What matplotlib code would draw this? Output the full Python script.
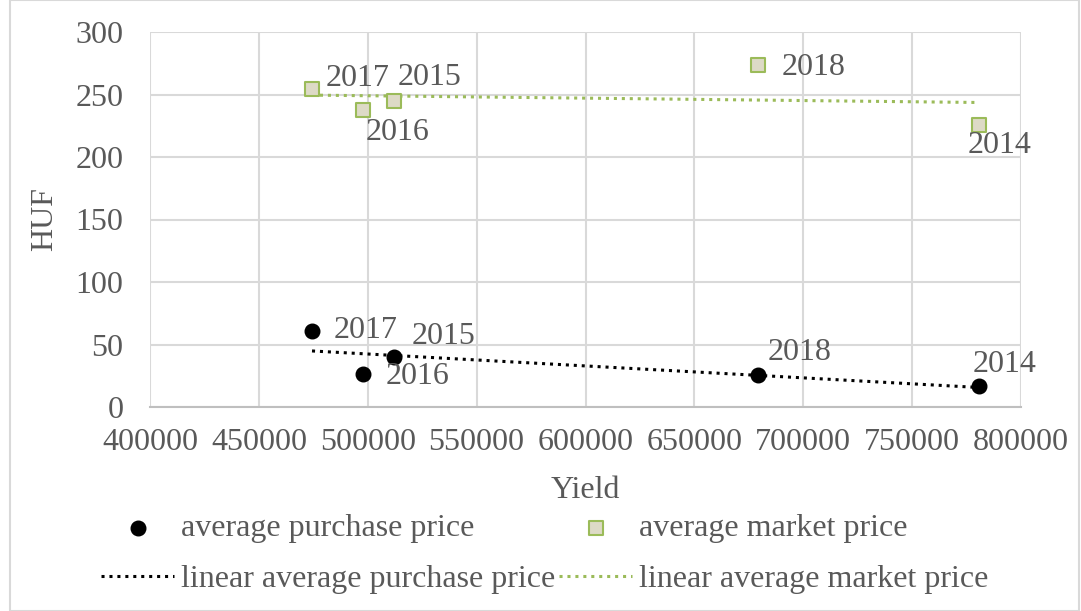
import numpy as np
import matplotlib.pyplot as plt
from matplotlib.patches import Rectangle

plt.rcParams['font.family'] = ['Liberation Serif', 'DejaVu Serif']

# Données : rendement et prix moyens (HUF)
annees = ['2014', '2015', '2016', '2017', '2018']
rendement = [780700, 512100, 497800, 474400, 679200]
prix_achat = [16.8, 40.0, 26.4, 60.8, 25.6]
prix_marche = [226.0, 244.5, 237.5, 254.5, 274.0]

# positions des étiquettes (décalage en pixels)
decal_achat = {'2014': (-6, 22), '2015': (18, 20), '2016': (23, -2), '2017': (22, 0), '2018': (10, 23)}
decal_marche = {'2014': (-11, -21), '2015': (4, 24), '2016': (3, -22), '2017': (14, 10), '2018': (24, -3)}

gris = '#595959'
vert = '#9bbb59'
taille = 23

fig = plt.figure(figsize=(10.81, 6.11), dpi=100)
ax = fig.add_axes([150/1081, 1 - 407/611, 871/1081, 375/611])

p1 = ax.scatter(rendement, prix_achat, s=110, color='black', zorder=3, label='average purchase price')
p2 = ax.scatter(rendement, prix_marche, s=110, marker='s', facecolor='#dddac6', edgecolor=vert,
                linewidth=1.5, zorder=3, label='average market price')

# droites de tendance linéaires
xs = np.array([min(rendement), max(rendement)])
a, b = np.polyfit(rendement, prix_achat, 1)
l1, = ax.plot(xs, a * xs + b, color='black', linestyle=(0, (1, 1.6)), linewidth=2.2,
              label='linear average purchase price')
a, b = np.polyfit(rendement, prix_marche, 1)
l2, = ax.plot(xs, a * xs + b, color=vert, linestyle=(0, (1, 1.6)), linewidth=2.2,
              label='linear average market price')

for i, an in enumerate(annees):
    ax.annotate(an, (rendement[i], prix_achat[i]), xytext=decal_achat[an], textcoords='offset pixels',
                ha='left', va='center', fontsize=taille, color=gris)
    ax.annotate(an, (rendement[i], prix_marche[i]), xytext=decal_marche[an], textcoords='offset pixels',
                ha='left', va='center', fontsize=taille, color=gris)

ax.set_xlim(400000, 800000)
ax.set_ylim(0, 300)
ax.set_xticks(np.arange(400000, 800001, 50000))
ax.set_yticks(np.arange(0, 301, 50))
ax.grid(True, color='#d9d9d9', linewidth=1.5)
ax.set_axisbelow(True)
for s in ['top', 'right', 'left']:
    ax.spines[s].set_visible(False)
ax.spines['bottom'].set_color('#bfbfbf')
ax.spines['bottom'].set_linewidth(1.5)
ax.tick_params(axis='both', length=0, labelsize=taille, labelcolor=gris)
ax.tick_params(axis='y', pad=19)
ax.tick_params(axis='x', pad=15)
ax.set_xlabel('Yield', fontsize=taille, color=gris, labelpad=14)
ax.set_ylabel('HUF', fontsize=taille, color=gris, labelpad=12)

# légende sur deux lignes : points puis droites
fig.legend([p1, l1, p2, l2], [h.get_label() for h in (p1, l1, p2, l2)],
           loc='upper center', bbox_to_anchor=(0.5 + 4/1081, 1 - 501/611), ncol=2, frameon=False,
           fontsize=taille, labelcolor=gris, handlelength=2.3, handletextpad=0.2,
           columnspacing=0.12, borderaxespad=0, labelspacing=0.68)

fig.patches.append(Rectangle((10/1081, 0), 1 - 12/1081, 1, transform=fig.transFigure,
                             fill=False, edgecolor='#d9d9d9', linewidth=1.5))

fig.savefig('out.png', dpi=100)
